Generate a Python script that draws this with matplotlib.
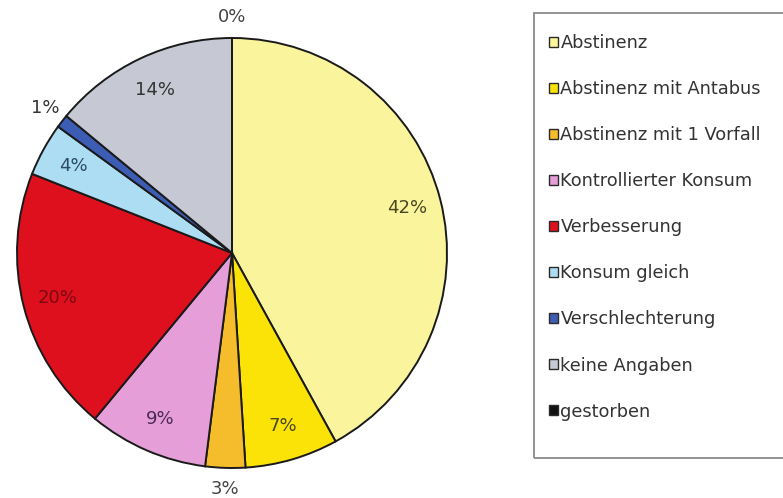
import numpy as np
import matplotlib
matplotlib.use('Agg')
import matplotlib.pyplot as plt
from matplotlib.patches import Patch, Rectangle

# data
categories = ['Abstinenz', 'Abstinenz mit Antabus', 'Abstinenz mit 1 Vorfall',
              'Kontrollierter Konsum', 'Verbesserung', 'Konsum gleich',
              'Verschlechterung', 'keine Angaben', 'gestorben']
shares = [42, 7, 3, 9, 20, 4, 1, 14, 0]
colors = ['#FAF49C', '#FBE308', '#F5BD2C', '#E59ED8', '#DF101E',
          '#ADDDF3', '#3D5DB5', '#C6C9D3', '#111111']
label_colors = ['#4a4620', '#4a4620', '#444444', '#4a2a55', '#7a0a12',
                '#2a4a66', '#333333', '#333333', '#444444']

plt.rcParams['font.family'] = ['DejaVu Sans']

fig = plt.figure(figsize=(7.83, 4.98), dpi=100)
ax = fig.add_axes([17 / 783, 30 / 498, 430 / 783, 430 / 498])

wedges, _ = ax.pie(shares, colors=colors, startangle=90, counterclock=False,
                   wedgeprops=dict(edgecolor='#1a1a1a', linewidth=1.4))
ax.set_xlim(-1, 1)
ax.set_ylim(-1, 1)
ax.set_aspect('equal')
ax.axis('off')

# percentage labels, small slices outside
total = sum(shares)
cum = 0
for v, c in zip(shares, label_colors):
    mid = np.deg2rad(90 - 360 * (cum + v / 2) / total)
    cum += v
    d = 0.84 if v > 3 else 1.1
    ax.text(d * np.cos(mid), d * np.sin(mid), f'{v}%', ha='center', va='center',
            fontsize=13, color=c)

# legend box (right side, runs off the edge)
fig.patches.append(Rectangle((534 / 783, 40 / 498), 0.4, 445 / 498,
                             transform=fig.transFigure, fill=False,
                             edgecolor='#8a8a8a', linewidth=1.3))
handles = [Patch(facecolor=c, edgecolor='#2a2a2a', linewidth=1.0) for c in colors]
fig.legend(handles, categories, loc='upper left',
           bbox_to_anchor=(540 / 783, 1 - 25 / 498), frameon=False,
           fontsize=12.8, handlelength=0.5, handleheight=0.5,
           handletextpad=0.15, labelspacing=1.58, borderpad=0,
           labelcolor='#333333')

fig.savefig('out.png', dpi=100)
